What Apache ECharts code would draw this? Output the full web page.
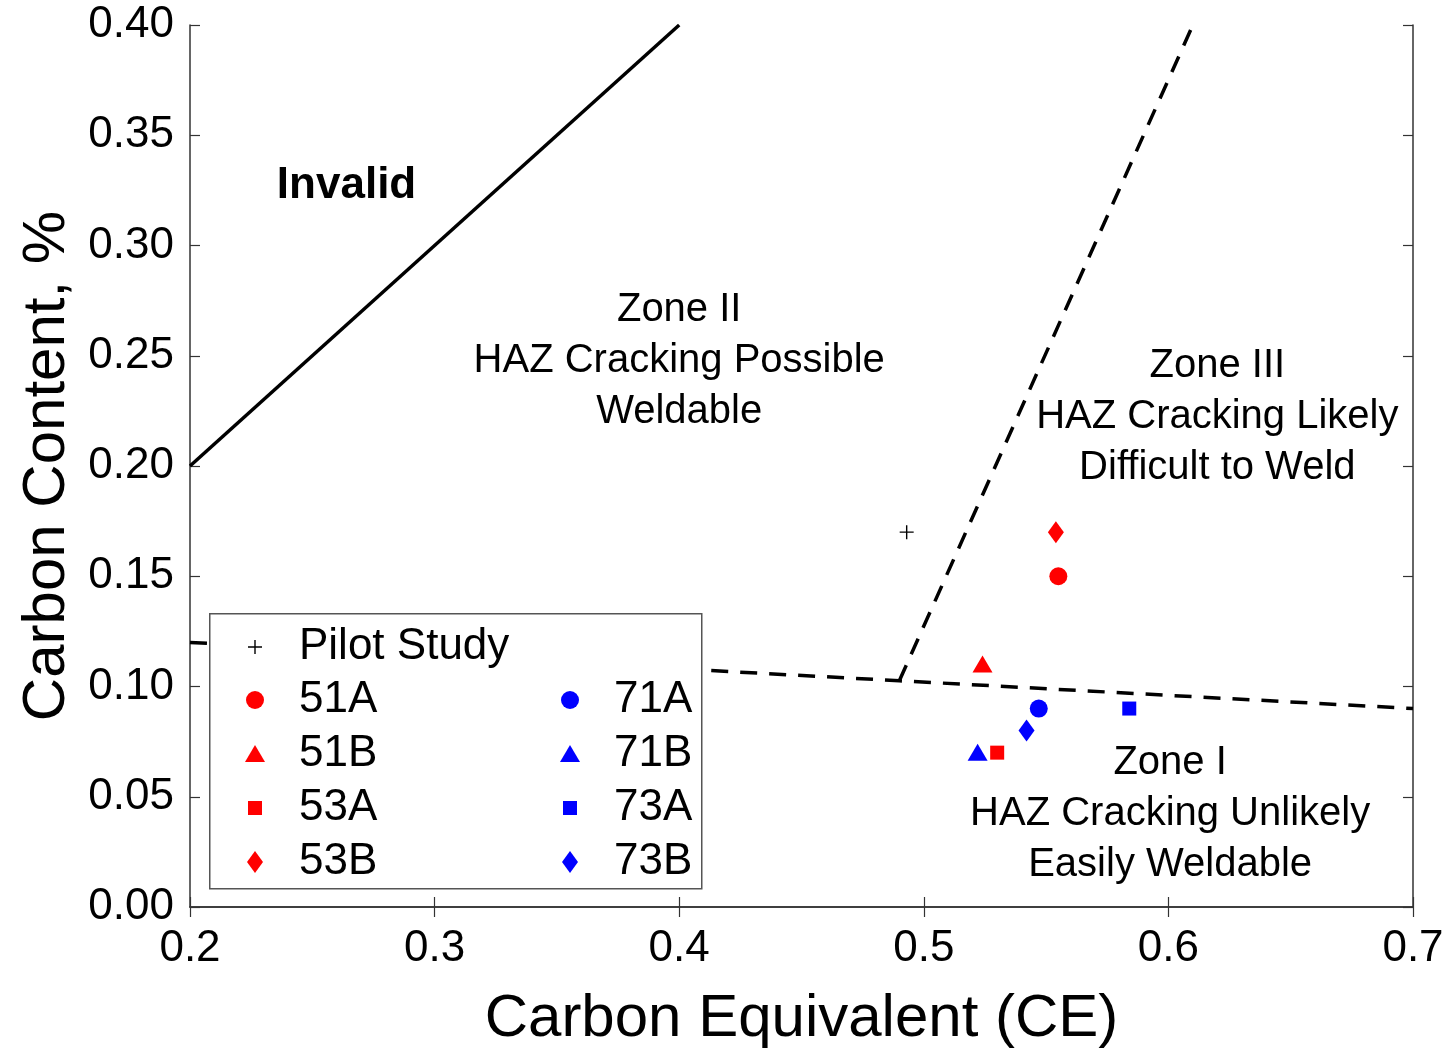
<!DOCTYPE html>
<html><head><meta charset="utf-8">
<script src="https://cdn.jsdelivr.net/npm/echarts@6/dist/echarts.min.js"></script>
<style>html,body{margin:0;padding:0;background:#fff}#c{width:1450px;height:1054px}</style>
</head><body><div id="c"></div>
<script>
const FONT = '"Liberation Sans", Arial, sans-serif';
const xTicks = [0.2, 0.3, 0.4, 0.5, 0.6, 0.7];
const yTicks = [0.00, 0.05, 0.10, 0.15, 0.20, 0.25, 0.30, 0.35, 0.40];

const pilot = [[0.493, 0.17]];
const s51A = [[0.555, 0.15]];
const s51B = [[0.524, 0.11]];
const s53A = [[0.530, 0.07]];
const s53B = [[0.554, 0.17]];
const s71A = [[0.547, 0.09]];
const s71B = [[0.522, 0.07]];
const s73A = [[0.584, 0.09]];
const s73B = [[0.542, 0.08]];

const invalidLine = [[0.2, 0.2], [0.4, 0.4]];
const zoneILine = [[0.2, 0.12], [0.49, 0.1026], [0.7, 0.09]];
const zoneIIILine = [[0.49, 0.1026], [0.61, 0.40]];

const notes = [
  {value: [0.264, 0.327], text: 'Invalid', bold: true},
  {value: [0.400, 0.2475], text: 'Zone II\nHAZ Cracking Possible\nWeldable'},
  {value: [0.620, 0.2222], text: 'Zone III\nHAZ Cracking Likely\nDifficult to Weld'},
  {value: [0.6007, 0.0423], text: 'Zone I\nHAZ Cracking Unlikely\nEasily Weldable'}
];

const RED = '#ff0000', BLUE = '#0000ff';
// every symbol is drawn in the same 22x22 box so legend icons keep their relative size
const BOX = 'M-11,-11 L-11,-11 M11,11 L11,11 ';
const SYM = {
  plus: 'path://' + BOX + 'M-0.7,-7 L0.7,-7 L0.7,-0.7 L7,-0.7 L7,0.7 L0.7,0.7 L0.7,7 L-0.7,7 L-0.7,0.7 L-7,0.7 L-7,-0.7 L-0.7,-0.7 Z',
  circle: 'path://' + BOX + 'M-9,0 A9,9 0 1,0 9,0 A9,9 0 1,0 -9,0 Z',
  tri: 'path://' + BOX + 'M0,-9 L10,8 L-10,8 Z',
  sq: 'path://' + BOX + 'M-7,-7 L7,-7 L7,7 L-7,7 Z',
  dia: 'path://' + BOX + 'M0,-11 L8,0 L0,11 L-8,0 Z'
};

function pts(name, data, symbol, color) {
  return {name, type: 'scatter', data, symbol, symbolSize: 22, itemStyle: {color, opacity: 1}, z: 5};
}
function line(data, type) {
  return {type: 'line', data, symbol: 'none', silent: true, z: 3,
    lineStyle: {color: '#000', width: 3.5, type: type === 'dash' ? [17, 12] : 'solid'}};
}

const axisLine = {show: true, lineStyle: {color: '#333', width: 1.5}};
const axisTick = {show: true, inside: true, length: 10, lineStyle: {color: '#333', width: 1.2}};

const legendText = {fontFamily: FONT, fontSize: 44, color: '#000', rich: {t: {fontFamily: FONT, fontSize: 44, color: '#000', padding: [0, 0, 0, 28]}}};
const legendFmt = n => '{t|' + n + '}';

const chart = echarts.init(document.getElementById('c'), null, {renderer: 'canvas'});
chart.setOption({
  animation: false,
  backgroundColor: '#fff',
  textStyle: {fontFamily: FONT},
  grid: {left: 190, right: 37, top: 25, bottom: 144},
  xAxis: [
    {type: 'value', min: 0.2, max: 0.7, interval: 0.1, position: 'bottom',
     axisLine, axisTick, splitLine: {show: false},
     axisLabel: {fontFamily: FONT, fontSize: 44, color: '#000', margin: 20, formatter: v => v.toFixed(1)},
     name: 'Carbon Equivalent (CE)', nameLocation: 'middle', nameGap: 82,
     nameTextStyle: {fontFamily: FONT, fontSize: 60, color: '#000'}},
    {type: 'value', min: 0.2, max: 0.7, interval: 0.1, position: 'top',
     axisLine, axisTick, axisLabel: {show: false}, splitLine: {show: false}}
  ],
  yAxis: [
    {type: 'value', min: 0, max: 0.4, interval: 0.05, position: 'left',
     axisLine, axisTick, splitLine: {show: false},
     axisLabel: {fontFamily: FONT, fontSize: 44, color: '#000', margin: 16, formatter: v => v.toFixed(2)},
     name: 'Carbon Content, %', nameLocation: 'middle', nameGap: 112,
     nameTextStyle: {fontFamily: FONT, fontSize: 60, color: '#000'}},
    {type: 'value', min: 0, max: 0.4, interval: 0.05, position: 'right',
     axisLine, axisTick, axisLabel: {show: false}, splitLine: {show: false}}
  ],
  legend: [
    {data: ['Pilot Study'], left: 239, top: 620, orient: 'vertical', itemWidth: 22, itemHeight: 22,
     textStyle: legendText, formatter: legendFmt, z: 60, selectedMode: false},
    {data: ['51A', '51B', '53A', '53B'], left: 239, top: 673, orient: 'vertical', itemWidth: 22, itemHeight: 22,
     itemGap: 10, textStyle: legendText, formatter: legendFmt, z: 60, selectedMode: false},
    {data: ['71A', '71B', '73A', '73B'], left: 554, top: 673, orient: 'vertical', itemWidth: 22, itemHeight: 22,
     itemGap: 10, textStyle: legendText, formatter: legendFmt, z: 60, selectedMode: false}
  ],
  series: [
    line(invalidLine, 'solid'),
    line(zoneILine, 'dash'),
    line(zoneIIILine, 'dash'),
    pts('Pilot Study', pilot, SYM.plus, '#000'),
    pts('51A', s51A, SYM.circle, RED),
    pts('51B', s51B, SYM.tri, RED),
    pts('53A', s53A, SYM.sq, RED),
    pts('53B', s53B, SYM.dia, RED),
    pts('71A', s71A, SYM.circle, BLUE),
    pts('71B', s71B, SYM.tri, BLUE),
    pts('73A', s73A, SYM.sq, BLUE),
    pts('73B', s73B, SYM.dia, BLUE)
  ]
});

const noteGraphics = notes.map(n => {
  const p = chart.convertToPixel({gridIndex: 0}, n.value);
  return {type: 'text', x: p[0], y: p[1], z: 40, silent: true,
    style: {text: n.text, fill: '#000', align: 'center', verticalAlign: 'middle',
      font: (n.bold ? 'bold 44px ' : '40px ') + FONT, lineHeight: 51}};
});
chart.setOption({graphic: [
  {type: 'rect', left: 209, top: 613, z: 50,
   shape: {width: 492, height: 275}, style: {fill: '#fff', stroke: '#555', lineWidth: 1.5}}
].concat(noteGraphics)});
</script></body></html>
